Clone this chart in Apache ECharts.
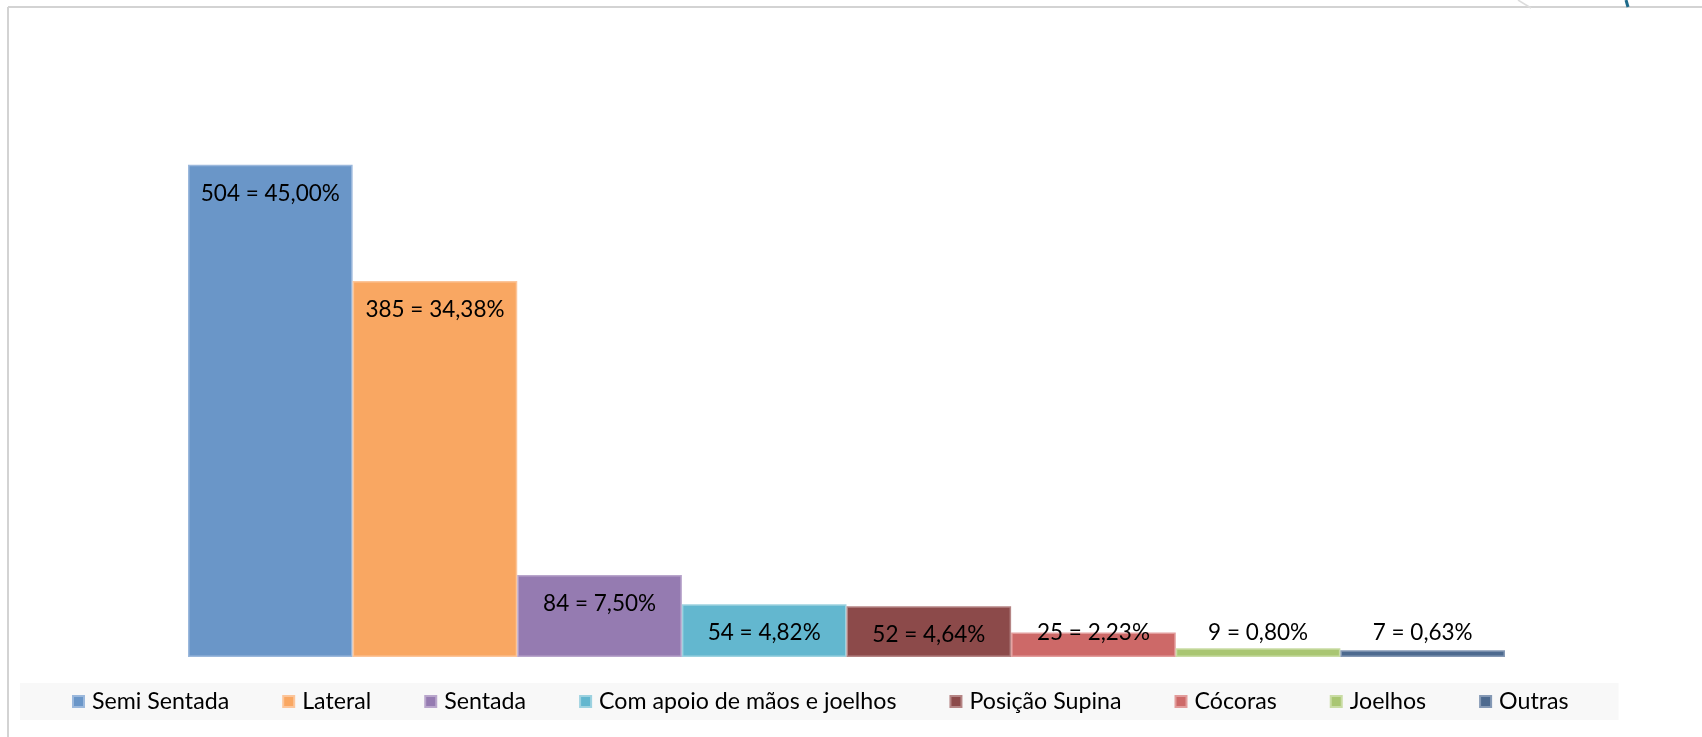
<!DOCTYPE html>
<html>
<head>
<meta charset="utf-8">
<script src="https://cdn.jsdelivr.net/npm/echarts@6/dist/echarts.min.js"></script>
<style>
	html, body { margin: 0; padding: 0; background: #fff; }
	#posChart { width: 1702px; height: 737px; }
</style>
</head>
<body>
<div id="posChart"></div>
<script>
	// dados do gráfico
	var posicoes = ['Semi Sentada', 'Lateral', 'Sentada', 'Com apoio de mãos e joelhos', 'Posição Supina', 'Cócoras', 'Joelhos', 'Outras'];
	var valores = [504, 385, 84, 54, 52, 25, 9, 7];
	var percentuais = ['45,00%', '34,38%', '7,50%', '4,82%', '4,64%', '2,23%', '0,80%', '0,63%'];
	var cores = ['#6a96c8', '#f9a762', '#957bb1', '#63b7cf', '#8c4a4a', '#cd6968', '#a9c672', '#4d6a8f'];
	var bordas = ['#9bb8dc', '#fcc59a', '#b9a6cc', '#9dd2e0', '#b58585', '#e29c9b', '#c9dca4', '#8599b5'];

	var myChart = echarts.init(document.getElementById('posChart'));

	var series = [];
	for (var i = 0; i < posicoes.length; i++) {
		// rótulos de barras baixas ficam ancorados perto da base
		var baixo = valores[i] < 50;
		series.push({
			name: posicoes[i],
			type: 'bar',
			barGap: '0%',
			barCategoryGap: '0%',
			data: [valores[i]],
			itemStyle: {
				color: cores[i],
				borderColor: bordas[i],
				borderWidth: 1.5
			},
			label: {
				show: true,
				position: baixo ? 'insideBottom' : 'insideTop',
				distance: baixo ? 13 : 17,
				formatter: valores[i] + ' = ' + percentuais[i],
				color: '#000',
				fontFamily: 'Lato',
				fontSize: 22.5
			}
		});
	}

	myChart.setOption({
		animation: false,
		backgroundColor: '#fff',
		grid: {
			left: 188,
			right: 197,
			top: 71,
			bottom: 80
		},
		xAxis: {
			type: 'category',
			data: [''],
			show: false
		},
		yAxis: {
			type: 'value',
			min: 0,
			max: 600,
			show: false
		},
		legend: {
			left: 20,
			top: 683,
			padding: [7, 50, 7, 52],
			backgroundColor: '#f8f8f8',
			itemWidth: 11,
			itemHeight: 11,
			itemGap: 53,
			icon: 'rect',
			data: posicoes,
			textStyle: {
				color: '#000',
				fontFamily: 'Lato',
				fontSize: 23.2,
				padding: [0, 0, 0, 3]
			}
		},
		graphic: [
			{ type: 'line', shape: { x1: 8, y1: 7, x2: 8, y2: 737 }, style: { stroke: '#d3d3d3', lineWidth: 2 } },
			{ type: 'line', shape: { x1: 8, y1: 7, x2: 1702, y2: 7 }, style: { stroke: '#d3d3d3', lineWidth: 2 } },
			{ type: 'line', shape: { x1: 1518, y1: 0, x2: 1531, y2: 8 }, style: { stroke: '#dcdcdc', lineWidth: 1.5 } },
			{ type: 'line', shape: { x1: 1626, y1: 0, x2: 1628, y2: 7 }, style: { stroke: '#1e6a8a', lineWidth: 3 } }
		],
		series: series
	});
</script>
</body>
</html>
